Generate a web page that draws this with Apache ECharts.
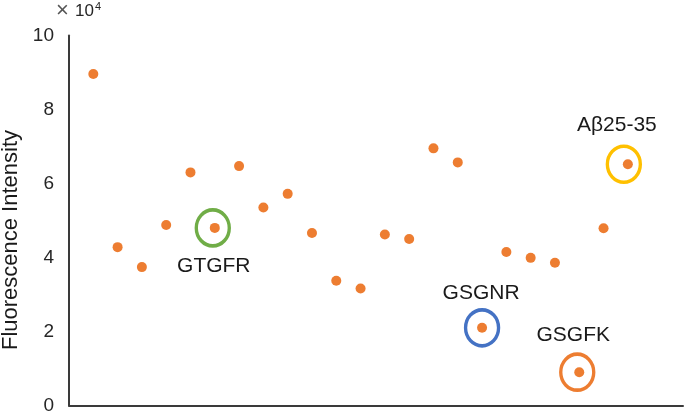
<!DOCTYPE html>
<html>
<head>
<meta charset="utf-8">
<script src="https://cdn.jsdelivr.net/npm/echarts@6/dist/echarts.min.js"></script>
<style>
  html, body { margin: 0; padding: 0; background: #fff; }
  #chart { width: 685px; height: 416px; }
</style>
</head>
<body>
<div id="chart"></div>
<script>
  // values are in units of 10^4
  var fluorescence = [8.96, 4.28, 3.74, 4.88, 6.30, 4.80, 6.47, 5.35, 5.72, 4.66, 3.37, 3.16,
    4.62, 4.50, 6.95, 6.57, 2.10, 4.15, 3.99, 3.86, 0.90, 4.79, 6.52]
  var peptideNames = ['GTGFR', 'GSGNR', 'GSGFK', 'Aβ25-35']
  var peptideIndex = [5, 16, 20, 22]
  var yTicks = [0, 2, 4, 6, 8, 10]

  // ring / label styling per highlighted peptide
  var ringStyle = {
    'GTGFR': {color: '#70AD47', ring: [-2, 0], label: [-1, 38]},
    'GSGNR': {color: '#4472C4', ring: [0, 0], label: [-1, -35]},
    'GSGFK': {color: '#ED7D31', ring: [-2, 0], label: [-6, -37]},
    'Aβ25-35': {color: '#FFC000', ring: [-4, 0], label: [-11, -39]}
  }

  var points = fluorescence.map(function (v, i) { return [i + 1, v] })

  var rings = peptideNames.map(function (name, k) {
    var s = ringStyle[name]
    var idx = peptideIndex[k]
    return {
      name: name,
      value: [idx + 1, fluorescence[idx]],
      symbolOffset: s.ring,
      itemStyle: {borderColor: s.color},
      label: {offset: [s.label[0] - s.ring[0], s.label[1]]}
    }
  })

  var chart = echarts.init(document.getElementById('chart'))
  chart.setOption({
    animation: false,
    grid: {left: 69, right: 2, top: 35.5, bottom: 10.5, containLabel: false, outerBoundsMode: 'none'},
    xAxis: {
      type: 'value',
      min: 0,
      max: 25.27,
      axisLine: {show: true, onZero: false, lineStyle: {color: '#3a3a3a', width: 2}},
      axisTick: {show: false},
      axisLabel: {show: false},
      splitLine: {show: false}
    },
    yAxis: {
      type: 'value',
      min: yTicks[0],
      max: yTicks[yTicks.length - 1],
      interval: yTicks[1] - yTicks[0],
      axisLine: {show: true, lineStyle: {color: '#3a3a3a', width: 2}},
      axisTick: {show: false},
      axisLabel: {margin: 15, fontFamily: 'Liberation Sans', fontSize: 19, color: '#262626'},
      splitLine: {show: false}
    },
    graphic: [
      {
        type: 'text', x: 11, y: 240, rotation: Math.PI / 2,
        style: {
          text: 'Fluorescence Intensity', fontFamily: 'Liberation Sans', fontSize: 22,
          fill: '#1a1a1a', align: 'center', verticalAlign: 'middle'
        }
      },
      {type: 'text', left: 56, top: 0, style: {text: '×', fontFamily: 'Liberation Sans', fontSize: 22, fill: '#555'}},
      {type: 'text', left: 75, top: 3, style: {text: '10', fontFamily: 'Liberation Sans', fontSize: 17, fill: '#262626'}},
      {type: 'text', left: 95, top: 1, style: {text: '4', fontFamily: 'Liberation Sans', fontSize: 11, fill: '#262626'}}
    ],
    series: [
      {
        type: 'scatter',
        data: points,
        symbolSize: 10,
        itemStyle: {color: '#ED7D31', opacity: 1}
      },
      {
        type: 'scatter',
        data: rings,
        symbol: 'circle',
        symbolSize: [33, 36],
        itemStyle: {color: 'rgba(0,0,0,0)', borderWidth: 3.5, opacity: 1},
        label: {
          show: true,
          position: 'inside',
          formatter: '{b}',
          fontFamily: 'Liberation Sans',
          fontSize: 21,
          color: '#1a1a1a'
        },
        z: 3
      }
    ]
  })
</script>
</body>
</html>
